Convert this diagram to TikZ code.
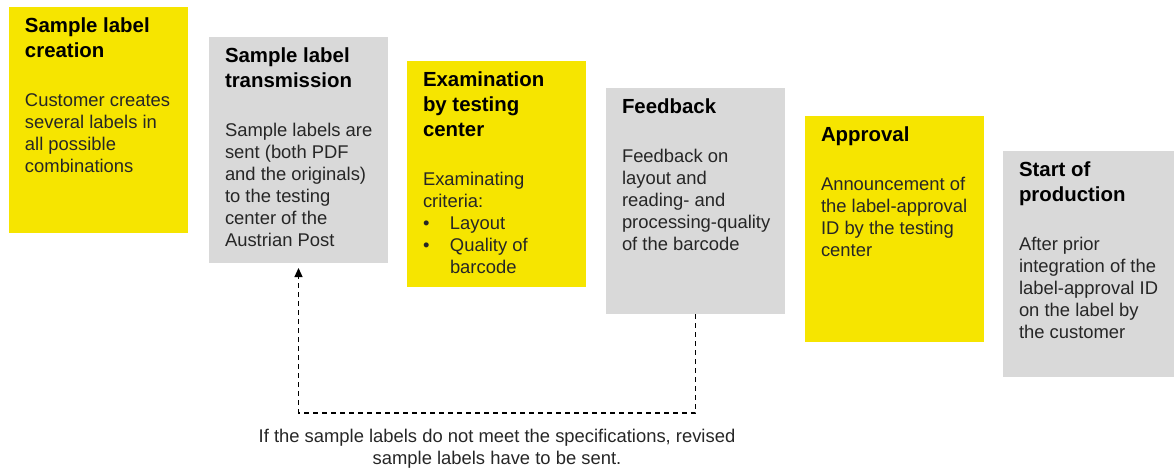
\documentclass[tikz,border=0pt]{standalone}
\usepackage{fontspec}
\setmainfont{Liberation Sans}
\usetikzlibrary{positioning, arrows.meta}

\definecolor{stageyellow}{RGB}{246,229,0}
\definecolor{stagegray}{RGB}{217,217,217}

\newcommand{\stagetext}[2]{%
  \parbox[t][226pt][t]{179pt}{\raggedright\leftskip=16pt
    {\fontsize{20.4}{25}\selectfont\bfseries\rule{0pt}{26pt}#1\par}
    \vspace{27pt}
    {\fontsize{18.4}{22}\selectfont\color{black!85}#2\par}}}
\newcommand{\bulletline}[1]{\par\hangindent=27pt\hangafter=1\noindent\makebox[27pt][l]{\textbullet}#1}

\begin{document}
\begin{tikzpicture}[x=1pt, y=-1pt,
    stage/.style={rectangle, inner sep=0pt, outer sep=0pt, anchor=north west, minimum width=179pt, minimum height=226pt},
    retour/.style={dash pattern=on 5pt off 4pt, line width=1.2pt, -{Triangle[width=8pt,length=9pt]}, shorten >=5pt},
    note/.style={align=center, font=\fontsize{18.4}{22}\selectfont, text=black!85}]
        \useasboundingbox (0,0) rectangle (1174,470);
        % Define the stages
        \node[stage, fill=stageyellow] (s_1) at (9,7) {\stagetext{Sample label\\creation}{Customer creates\\several labels in\\all possible\\combinations}};
        \node[stage, fill=stagegray, below right=30pt and 21pt of s_1.north east] (s_2) {\stagetext{Sample label\\transmission}{Sample labels are\\sent (both PDF\\and the originals)\\to the testing\\center of the\\Austrian Post}};
        \node[stage, fill=stageyellow, below right=24pt and 19pt of s_2.north east] (s_3) {\stagetext{Examination\\by testing\\center}{Examinating\\criteria:\bulletline{Layout}\bulletline{Quality of\newline barcode}}};
        \node[stage, fill=stagegray, below right=27pt and 20pt of s_3.north east] (s_4) {\stagetext{Feedback}{Feedback on\\layout and\\reading- and\\processing-quality\\of the barcode}};
        \node[stage, fill=stageyellow, below right=28pt and 20pt of s_4.north east] (s_5) {\stagetext{Approval}{Announcement of\\the label-approval\\ID by the testing\\center}};
        \node[stage, fill=stagegray, below right=35pt and 19pt of s_5.north east] (s_6) {\stagetext{Start of\\production}{After prior\\integration of the\\label-approval ID\\on the label by\\the customer}};
        % Define the way back
        \coordinate (turn) at (0,413);
        \draw[retour] (s_4.south) -- (s_4.south |- turn) -| (s_2.south);
        \node[note] (note) at (497,449) {If the sample labels do not meet the specifications, revised\\sample labels have to be sent.};
    \end{tikzpicture}
\end{document}
